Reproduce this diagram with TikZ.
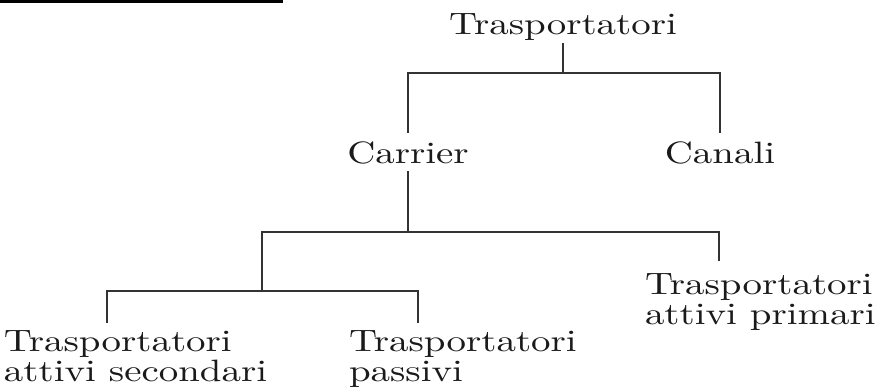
\documentclass[tikz,border=0pt]{standalone}
\usepackage{fontspec}
\setmainfont{lmroman10-regular.otf}[FakeStretch=1.26]
\definecolor{inkline}{HTML}{333333}
\definecolor{inktext}{HTML}{1A1A1A}
\begin{document}
\begin{tikzpicture}[x=1pt,y=-1pt,
  label/.style={inner sep=0pt,outer sep=0pt,text=inktext,
    font=\fontsize{30.9}{29.5}\selectfont},
  twoline/.style={label,align=left,anchor=base west},
  link/.style={draw=inkline,line width=2pt,line cap=rect}]
  \useasboundingbox (0,0) rectangle (876,389);
  % short rule at the top left
  \fill[black] (0,0) rectangle (283,2.5);

  % labels (the base anchor of a two-line label sits on its last line)
  \node[label,anchor=base] (top) at (563,34) {Trasportatori};
  \node[label,anchor=base] (carrier) at (408,163) {Carrier};
  \node[label,anchor=base] (canali) at (720,163) {Canali};
  \node[twoline] (sec) at (4,381) {Trasportatori\\attivi secondari};
  \node[twoline] (pas) at (349,381) {Trasportatori\\passivi};
  \node[twoline] (prim) at (645,324) {Trasportatori\\attivi primari};

  % junction points of the tree
  \coordinate (j1) at (563,72.5);
  \coordinate (j2) at (408,231.5);
  \coordinate (j3) at (262,291);
  \coordinate (primin) at ([xshift=74pt,yshift=64pt]prim.base west);
  \coordinate (secin) at ([xshift=103pt,yshift=59pt]sec.base west);
  \coordinate (pasin) at ([xshift=69pt,yshift=59pt]pas.base west);

  % connectors
  \draw[link] ([yshift=-10pt]top.base) -- (j1);
  \draw[link] ([yshift=31pt]carrier.base) |- (j1) -| ([yshift=31pt]canali.base);
  \draw[link] ([yshift=-9pt]carrier.base) -- (j2);
  \draw[link] (j3) |- (j2) -| (primin);
  \draw[link] (secin) |- (j3) -| (pasin);
\end{tikzpicture}
\end{document}
